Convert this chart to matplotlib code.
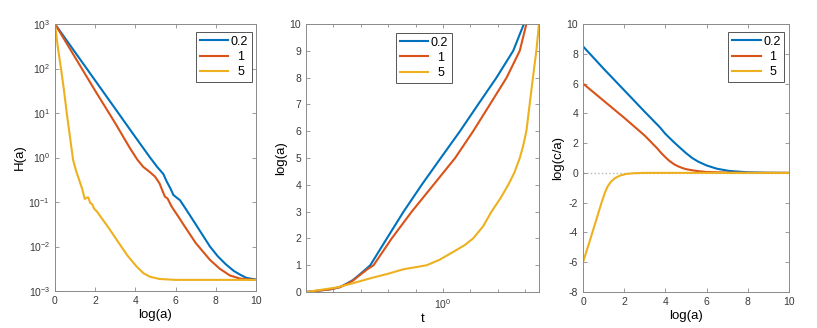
import numpy as np
import matplotlib
matplotlib.use("Agg")
import matplotlib.pyplot as plt
from matplotlib.ticker import FixedLocator, NullFormatter

plt.rcParams['font.family'] = ['Liberation Sans', 'DejaVu Sans']
plt.rcParams['axes.unicode_minus'] = False
plt.rcParams['mathtext.default'] = 'regular'

labels = ["0.2", "1", "5"]
colors = ["#0072BD", "#D95319", "#EDB120"]

# Panel 1: H(a) vs log(a)  (values given as log10 H)
p1_x_blue = [0, 1, 2, 3, 3.73, 4.3, 4.73, 5.1, 5.39, 5.56, 5.75, 5.89, 6.05, 6.22, 6.5, 7.0, 7.71,
             8.1, 8.5, 8.9, 9.2, 9.5, 9.7, 10]
p1_h_blue = [3, 2.365, 1.73, 1.095, 0.63, 0.27, 0.0, -0.22, -0.37, -0.54, -0.7, -0.84, -0.9, -0.96, -1.15,
             -1.5, -2.0, -2.22, -2.4, -2.55, -2.63, -2.7, -2.72, -2.74]
p1_x_red = [0, 1, 2, 3, 3.73, 4.1, 4.39, 4.7, 4.98, 5.2, 5.35, 5.47, 5.6, 5.8, 6.14, 6.5, 7.0, 7.71,
            8.2, 8.7, 9.2, 9.6, 10]
p1_h_red = [3, 2.25, 1.5, 0.77, 0.21, -0.05, -0.21, -0.32, -0.43, -0.58, -0.75, -0.88, -0.92, -1.1, -1.33,
            -1.58, -1.92, -2.3, -2.5, -2.65, -2.72, -2.74, -2.75]
p1_x_yel = [0, 0.15, 0.3, 0.45, 0.6, 0.75, 0.9, 1.05, 1.2, 1.35, 1.48, 1.58, 1.66, 1.75, 1.85, 1.95,
            2.1, 2.3, 2.7, 3.07, 3.6, 4.06, 4.4, 4.73, 5.2, 6.0, 10]
p1_h_yel = [3, 2.45, 2.0, 1.5, 0.95, 0.45, -0.05, -0.3, -0.5, -0.7, -0.93, -0.9, -0.9, -1.02, -1.05, -1.15,
            -1.22, -1.35, -1.6, -1.85, -2.2, -2.45, -2.6, -2.68, -2.73, -2.75, -2.75]

# Panel 2: log(a) vs t
p2_t_blue = [0.318, 0.388, 0.42, 0.447, 0.47, 0.5, 0.52, 0.543, 0.624, 0.718, 0.836, 0.981, 1.153,
             1.343, 1.567, 1.803, 1.972]
p2_y_blue = [0, 0.1, 0.18, 0.32, 0.45, 0.68, 0.83, 1, 2, 3, 4, 5, 6, 7, 8, 9, 10]
p2_t_red = [0.318, 0.388, 0.42, 0.447, 0.47, 0.5, 0.53, 0.558, 0.650, 0.769, 0.923, 1.107, 1.288,
            1.483, 1.706, 1.905, 2.014]
p2_y_red = [0, 0.1, 0.18, 0.3, 0.43, 0.65, 0.85, 1, 2, 3, 4, 5, 6, 7, 8, 9, 10]
p2_t_yel = [0.318, 0.41, 0.47, 0.543, 0.63, 0.718, 0.8, 0.873, 0.97, 1.091, 1.2, 1.288, 1.4, 1.503,
            1.62, 1.730, 1.82, 1.905, 1.96, 2.014, 2.070, 2.128, 2.19, 2.239]
p2_y_yel = [0, 0.17, 0.33, 0.51, 0.68, 0.85, 0.93, 1.0, 1.2, 1.5, 1.75, 2, 2.45, 3, 3.5, 4, 4.45, 5,
            5.45, 6, 7, 8, 9, 10]

# Panel 3: log(c/a) vs log(a)
p3_x_blue = [0, 1, 2, 3, 3.74, 4.0, 4.4, 4.7, 5.0, 5.3, 5.6, 6.0, 6.5, 7.1, 8, 9, 10]
p3_y_blue = [8.5, 7.0, 5.55, 4.1, 3.05, 2.62, 2.08, 1.7, 1.33, 1.0, 0.75, 0.5, 0.28, 0.13, 0.04, 0.01, 0]
p3_x_red = [0, 1, 2, 3, 3.6, 3.8, 4.0, 4.2, 4.4, 4.6, 4.8, 5.0, 5.5, 6, 7, 8, 10]
p3_y_red = [6.0, 4.85, 3.7, 2.5, 1.65, 1.33, 1.05, 0.8, 0.6, 0.45, 0.34, 0.25, 0.13, 0.06, 0.02, 0.0, 0]
p3_x_yel = [0, 0.3, 0.6, 0.9, 1.07, 1.2, 1.35, 1.55, 1.8, 2.1, 2.5, 3, 10]
p3_y_yel = [-6, -4.7, -3.35, -2.0, -1.3, -0.9, -0.6, -0.35, -0.18, -0.07, -0.02, 0, 0]

fig = plt.figure(figsize=(8.17, 3.28), dpi=100)
ax1 = fig.add_axes([0.0673, 0.1128, 0.2460, 0.8140])
ax2 = fig.add_axes([0.3745, 0.1098, 0.2852, 0.8170])
ax3 = fig.add_axes([0.7136, 0.1098, 0.2521, 0.8170])

lw = 1.5
spine_col = '#8a8a8a'
tick_col = '#3a3a3a'

def style(ax):
    for s in ax.spines.values():
        s.set_color(spine_col)
        s.set_linewidth(0.7)
    ax.tick_params(which='both', direction='in', top=True, right=True,
                   color=spine_col, labelcolor=tick_col, labelsize=7.5, width=0.6)
    ax.tick_params(which='major', length=3)
    ax.tick_params(which='minor', length=2)

def legend(ax, handles, anchor):
    leg = ax.legend(handles, ["0.2", "  1", "  5"], loc='upper left', bbox_to_anchor=anchor,
                    bbox_transform=fig.transFigure, borderaxespad=0, fancybox=False,
                    framealpha=1, edgecolor='#555555', fontsize=9, handlelength=2.3,
                    handletextpad=0.2, borderpad=0.3, labelspacing=0.25)
    leg.get_frame().set_linewidth(0.7)

# Panel 1
h = []
h += ax1.plot(p1_x_blue, 10.0 ** np.array(p1_h_blue), color=colors[0], lw=lw)
h += ax1.plot(p1_x_red, 10.0 ** np.array(p1_h_red), color=colors[1], lw=lw)
h += ax1.plot(p1_x_yel, 10.0 ** np.array(p1_h_yel), color=colors[2], lw=lw)
ax1.set_yscale('log')
ax1.set_xlim(0, 10)
ax1.set_ylim(1e-3, 1e3)
ax1.set_xticks([0, 2, 4, 6, 8, 10])
ax1.set_yticks([1e-3, 1e-2, 1e-1, 1e0, 1e1, 1e2, 1e3])
ax1.yaxis.set_minor_locator(FixedLocator([]))
ax1.set_xlabel('log(a)', fontsize=9.5, labelpad=2)
ax1.set_ylabel('H(a)', fontsize=9.5, labelpad=2)
style(ax1)
legend(ax1, h, (0.2399, 0.9024))

# Panel 2
h = []
h += ax2.plot(p2_t_blue, p2_y_blue, color=colors[0], lw=lw)
h += ax2.plot(p2_t_red, p2_y_red, color=colors[1], lw=lw)
h += ax2.plot(p2_t_yel, p2_y_yel, color=colors[2], lw=lw)
ax2.set_xscale('log')
ax2.set_xlim(10 ** -0.5, 10 ** 0.35)
ax2.set_ylim(0, 10)
ax2.set_xticks([1])
ax2.xaxis.set_minor_locator(FixedLocator([10 ** (k / 10) for k in range(-4, 4) if k != 0]))
ax2.xaxis.set_minor_formatter(NullFormatter())
ax2.set_yticks(range(0, 11))
ax2.set_xlabel('t', fontsize=9.5, labelpad=2)
ax2.set_ylabel('log(a)', fontsize=9.5, labelpad=2)
style(ax2)
legend(ax2, h, (0.4847, 0.8994))

# Panel 3
ax3.axhline(0, color='#b8b8b8', lw=1.0, ls=':', zorder=1)
h = []
h += ax3.plot(p3_x_blue, p3_y_blue, color=colors[0], lw=lw)
h += ax3.plot(p3_x_red, p3_y_red, color=colors[1], lw=lw)
h += ax3.plot(p3_x_yel, p3_y_yel, color=colors[2], lw=lw)
ax3.set_xlim(0, 10)
ax3.set_ylim(-8, 10)
ax3.set_xticks([0, 2, 4, 6, 8, 10])
ax3.set_yticks(range(-8, 11, 2))
ax3.set_xlabel('log(a)', fontsize=9.5, labelpad=2)
ax3.set_ylabel('log(c/a)', fontsize=9.5, labelpad=2)
style(ax3)
legend(ax3, h, (0.8911, 0.9024))

fig.savefig('out.png', dpi=100)
